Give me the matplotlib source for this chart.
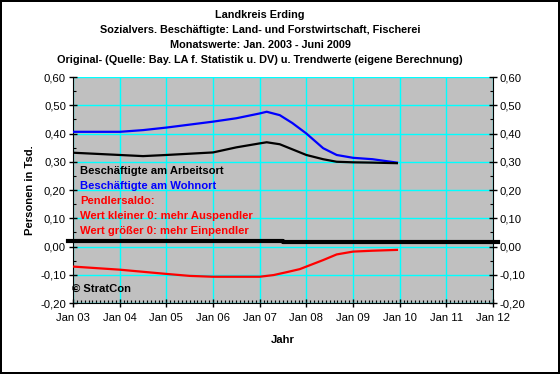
import numpy as np
import matplotlib.pyplot as plt
from matplotlib.ticker import MultipleLocator

plt.rcParams['font.family'] = ['Liberation Sans', 'DejaVu Sans']

# trend values (x in decimal years)
x_arbeit = [2003.0, 2004.0, 2004.5, 2005.0, 2006.0, 2006.5, 2007.0, 2007.15, 2007.43,
            2007.7, 2008.0, 2008.36, 2008.65, 2009.0, 2009.4, 2009.94]
arbeitsort = [0.332, 0.324, 0.320, 0.324, 0.333, 0.351, 0.365, 0.369, 0.362,
              0.344, 0.324, 0.309, 0.300, 0.298, 0.297, 0.295]

x_wohn = [2003.0, 2004.0, 2004.5, 2005.0, 2006.0, 2006.5, 2007.0, 2007.15, 2007.43,
          2007.7, 2008.0, 2008.36, 2008.65, 2009.0, 2009.42, 2009.94]
wohnort = [0.406, 0.406, 0.412, 0.421, 0.442, 0.454, 0.471, 0.477, 0.465,
           0.437, 0.400, 0.348, 0.324, 0.314, 0.309, 0.297]

x_saldo = [2003.0, 2004.0, 2005.0, 2005.5, 2006.0, 2007.0, 2007.3, 2007.6, 2007.86,
           2008.0, 2008.36, 2008.65, 2009.0, 2009.4, 2009.94]
saldo = [-0.071, -0.082, -0.097, -0.104, -0.107, -0.107, -0.101, -0.090, -0.080,
         -0.071, -0.048, -0.028, -0.018, -0.015, -0.012]

x_null = [2002.9, 2007.5, 2007.5, 2012.1]
nulllinie = [0.020, 0.020, 0.017, 0.017]

years = np.arange(2003, 2013)
year_labels = ['Jan 03', 'Jan 04', 'Jan 05', 'Jan 06', 'Jan 07', 'Jan 08',
               'Jan 09', 'Jan 10', 'Jan 11', 'Jan 12']
y_ticks = np.arange(-0.2, 0.61, 0.1)
y_labels = ['-0,20', '-0,10', '0,00', '0,10', '0,20', '0,30', '0,40', '0,50', '0,60']

fs = 8.1

fig = plt.figure(figsize=(5.6, 3.74), dpi=100)
fig.patch.set_edgecolor('black')
fig.patch.set_linewidth(1.5)
ax = fig.add_axes([0.1304, 0.1898, 0.75, 0.6043])
ax.set_facecolor('#c0c0c0')

ax.plot(x_null, nulllinie, color='black', lw=3, clip_on=False, zorder=4)
ax.plot(x_wohn, wohnort, color='#0000ff', lw=1.6, zorder=5)
ax.plot(x_arbeit, arbeitsort, color='black', lw=1.6, zorder=5)
ax.plot(x_saldo, saldo, color='#ff0000', lw=1.6, zorder=5)

ax.set_xlim(2003, 2012)
ax.set_ylim(-0.2, 0.6)
ax.set_xticks(years)
ax.set_xticklabels(year_labels)
ax.set_yticks(y_ticks)
ax.set_yticklabels(y_labels)
ax.xaxis.set_minor_locator(MultipleLocator(1 / 12))
ax.yaxis.set_minor_locator(MultipleLocator(0.05))
ax.grid(True, which='major', color='#00ffff', lw=1)
ax.set_axisbelow(True)
ax.tick_params(which='major', direction='inout', length=6, width=1, labelsize=fs,
               right=True, labelright=True, pad=2)
ax.tick_params(which='minor', direction='in', length=2.5, width=0.8, right=True)
ax.tick_params(axis='x', which='minor', length=2)
ax.tick_params(axis='x', which='major', pad=4)
for s in ['left', 'right', 'bottom']:
    ax.spines[s].set_color('black')
ax.spines['top'].set_visible(False)

ax.set_xlabel('Jahr', fontsize=fs, fontweight='bold', labelpad=9)
ax.set_ylabel('Personen in Tsd.', fontsize=fs, fontweight='bold', labelpad=4)

# legend-like annotations
tx = 2003.15
ax.text(tx, 0.267, 'Beschäftigte am Arbeitsort', color='black', fontsize=fs, fontweight='bold', va='center')
ax.text(tx, 0.214, 'Beschäftigte am Wohnort', color='#0000ff', fontsize=fs, fontweight='bold', va='center')
ax.text(tx, 0.161, 'Pendlersaldo:', color='#ff0000', fontsize=fs, fontweight='bold', va='center')
ax.text(tx, 0.108, 'Wert kleiner 0: mehr Auspendler', color='#ff0000', fontsize=fs, fontweight='bold', va='center')
ax.text(tx, 0.055, 'Wert größer 0: mehr Einpendler', color='#ff0000', fontsize=fs, fontweight='bold', va='center')
ax.text(2002.97, -0.15, '© StratCon', color='black', fontsize=fs, fontweight='bold', va='center')

titles = ['Landkreis Erding',
          'Sozialvers. Beschäftigte: Land- und Forstwirtschaft, Fischerei',
          'Monatswerte: Jan. 2003 - Juni 2009',
          'Original- (Quelle: Bay. LA f. Statistik u. DV) u. Trendwerte (eigene Berechnung)']
for i, t in enumerate(titles):
    fig.text(260 / 560, 1 - (15 + i * 15) / 374, t, ha='center', va='center',
             fontsize=7.8, fontweight='bold')

fig.savefig('out.png', dpi=100, edgecolor=fig.get_edgecolor())
